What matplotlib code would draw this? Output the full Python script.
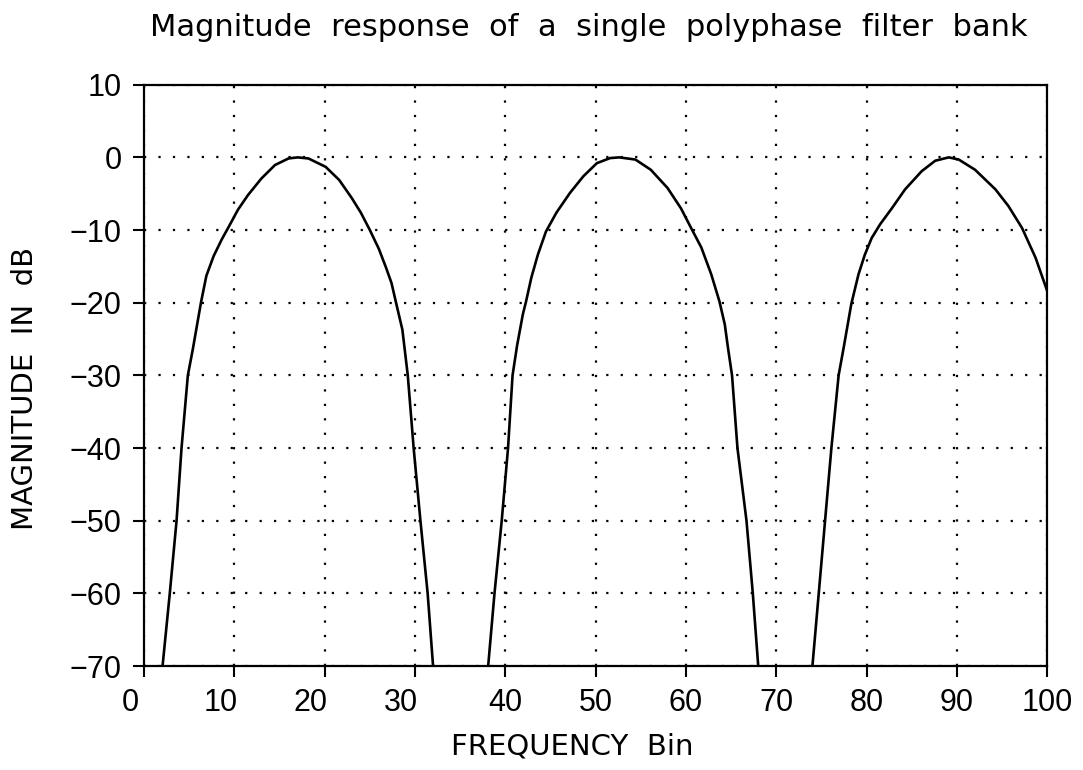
import matplotlib
matplotlib.use("Agg")
import matplotlib.pyplot as plt
from matplotlib.transforms import ScaledTranslation

plt.rcParams['font.family'] = ['DejaVu Sans']

# lobe 1
x1 = [2.05, 2.85, 3.6, 4.15, 4.85, 5.4, 6.3, 6.9, 7.7, 8.6, 9.4, 10.4, 11.5, 13.0,
      14.5, 16.0, 17.0, 18.2, 20.1, 21.6, 23.0, 24.0, 25.0, 26.0, 26.8, 27.4, 27.9,
      28.6, 29.2, 29.85, 30.6, 31.4, 32.0]
y1 = [-70, -60, -50, -40, -30, -26.4, -20, -16.3, -13.6, -11.3, -9.5, -7.2, -5.2, -2.9,
      -1.05, -0.15, 0, -0.15, -1.3, -3.1, -5.6, -7.6, -10, -12.6, -15.2, -17.3, -20,
      -23.7, -30, -40, -50, -60, -70]

# lobe 2
x2 = [38.1, 38.8, 39.6, 40.3, 40.8, 41.3, 41.94, 42.3, 42.87, 43.6, 44.5, 45.66, 47.15,
      48.64, 50.13, 51.6, 52.6, 54.4, 56.1, 57.95, 59.44, 60.56, 61.7, 62.8, 63.7, 64.3,
      64.65, 65.1, 65.7, 66.7, 67.4, 68.0]
y2 = [-70, -60, -50, -40, -30, -25.9, -21.6, -19.8, -16.6, -13.4, -10.2, -7.6, -4.9,
      -2.6, -0.8, -0.1, 0, -0.3, -1.7, -4.2, -7.0, -9.7, -12.4, -16.1, -19.8, -23,
      -26.2, -30, -40, -50, -60, -70]

# lobe 3 (cut off at bin 100)
x3 = [74.0, 74.7, 75.4, 76.1, 76.9, 77.5, 78.3, 79.1, 79.8, 80.56, 81.5, 82.8, 84.26,
      86.1, 87.6, 89.1, 90.2, 92.0, 94.26, 95.7, 97.2, 98.7, 100.0]
y3 = [-70, -60, -50, -40, -30, -25.9, -20.2, -16.1, -13.4, -11.1, -9.2, -7.0, -4.4,
      -1.9, -0.46, 0, -0.3, -1.7, -4.4, -6.7, -9.7, -13.8, -18.4]

xticks = list(range(0, 101, 10))
yticks = list(range(-70, 11, 10))

fig = plt.figure(figsize=(10.83, 7.7), dpi=100)
ax = fig.add_axes([0.133, 0.135, 0.834, 0.755])

for xs, ys in [(x1, y1), (x2, y2), (x3, y3)]:
    ax.plot(xs, ys, color='black', lw=1.9)

ax.set_xlim(0, 100)
ax.set_ylim(-70, 10)
ax.set_xticks(xticks)
ax.set_yticks(yticks)
ax.set_yticklabels(['\u2212%d' % -v if v < 0 else str(v) for v in yticks])
ax.tick_params(direction='out', length=8, width=1.5, labelsize=22, pad=8)
for lab in ax.get_xticklabels() + ax.get_yticklabels():
    lab.set_fontfamily('Liberation Sans')
# the plotter put the first few x labels a bit to the left
for lab in ax.get_xticklabels()[:4]:
    lab.set_transform(lab.get_transform() + ScaledTranslation(-0.14, 0, fig.dpi_scale_trans))
ax.grid(True, color='black', linestyle=(0, (1, 5.5)), lw=1.6)
for s in ax.spines.values():
    s.set_linewidth(1.6)

fig.text(0.544, 1 - 36/770, 'Magnitude  response  of  a  single  polyphase  filter  bank',
         ha='center', va='baseline', fontsize=22)
fig.text(0.528, 1 - 755/770, 'FREQUENCY  Bin', ha='center', va='baseline', fontsize=21)
fig.text(0.023, 1 - 388/770, 'MAGNITUDE  IN  dB', ha='center', va='center',
         rotation=90, fontsize=21)

fig.savefig('out.png', dpi=100)
